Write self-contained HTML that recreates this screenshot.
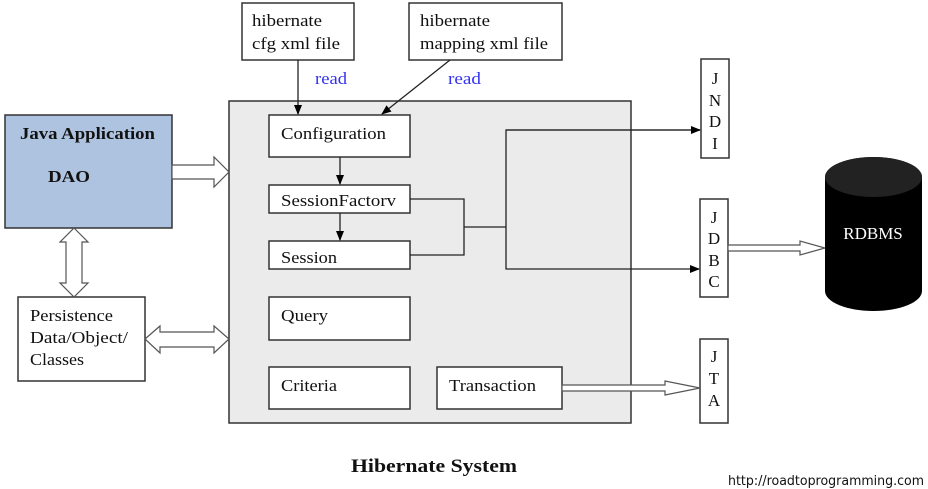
<!DOCTYPE html>
<html><head><meta charset="utf-8"><style>
html,body{margin:0;padding:0;background:#fff;}
svg{display:block;}
text{font-family:"Liberation Serif",serif;font-size:17px;fill:#111;}
</style></head><body>
<svg width="928" height="489" viewBox="0 0 928 489" xmlns="http://www.w3.org/2000/svg">
<defs>
<marker id="ah" markerWidth="10" markerHeight="8" refX="9" refY="4" orient="auto" markerUnits="userSpaceOnUse">
<path d="M0,0 L10,4 L0,8 Z" fill="#000"/></marker>
</defs>
<g stroke="#333" stroke-width="1.5" fill="#fff">
<rect x="229" y="101" width="402" height="322" fill="#ebebeb"/>
<rect x="5" y="115" width="167" height="113" fill="#aec3e0"/>
<rect x="18" y="297" width="127" height="84"/>
<rect x="242" y="3" width="112" height="57"/>
<rect x="409" y="3" width="153" height="57"/>
<rect x="269" y="115" width="141" height="42"/>
<rect x="269" y="185" width="141" height="28"/>
<rect x="269" y="241" width="141" height="28"/>
<rect x="269" y="297" width="141" height="43"/>
<rect x="269" y="367" width="141" height="42"/>
<rect x="437" y="367" width="125" height="42"/>
<rect x="701" y="59" width="28" height="99"/>
<rect x="700" y="199" width="28" height="98"/>
<rect x="700" y="339" width="28" height="84"/>
</g>
<g stroke="#222" stroke-width="1.3" fill="none">
<line x1="298" y1="60" x2="298" y2="114" marker-end="url(#ah)"/>
<line x1="450" y1="60" x2="382" y2="114" marker-end="url(#ah)"/>
<line x1="340" y1="157" x2="340" y2="184" marker-end="url(#ah)"/>
<line x1="340" y1="213" x2="340" y2="240" marker-end="url(#ah)"/>
<polyline points="410,199 464,199 464,255 410,255"/>
<line x1="464" y1="227" x2="506" y2="227"/>
<polyline points="700,130 506,130 506,269 699,269" marker-end="url(#ah)"/>
<line x1="506" y1="130" x2="700" y2="130" marker-end="url(#ah)"/>
</g>
<g stroke="#555" stroke-width="1.2" fill="#fff">
<path d="M172,165 L214,165 L214,157 L229,172 L214,187 L214,179 L172,179 Z"/>
<path d="M74,228 L88,242 L82,242 L82,283 L88,283 L74,297 L60,283 L66,283 L66,242 L60,242 Z"/>
<path d="M145,339 L160,326 L160,332 L214,332 L214,326 L229,339 L214,353 L214,347 L160,347 L160,353 Z"/>
<path d="M728,245 L800,245 L800,241 L825,248 L800,255 L800,251 L728,251 Z"/>
<path d="M562,385 L665,385 L665,381 L700,388 L665,395 L665,391 L562,391 Z"/>
</g>
<path d="M825,177 A48.5,20 0 0 1 922,177 L922,291 A48.5,20 0 0 1 825,291 Z" fill="#000"/>
<ellipse cx="873.5" cy="177" rx="48.5" ry="20" fill="#222"/>
<text x="20" y="139" style="font-weight:bold" textLength="135" lengthAdjust="spacingAndGlyphs">Java Application</text>
<text x="48" y="182" style="font-weight:bold" textLength="42" lengthAdjust="spacingAndGlyphs">DAO</text>
<text x="30" y="321" textLength="83" lengthAdjust="spacingAndGlyphs">Persistence</text>
<text x="30" y="343" textLength="98" lengthAdjust="spacingAndGlyphs">Data/Object/</text>
<text x="30" y="365" textLength="54" lengthAdjust="spacingAndGlyphs">Classes</text>
<text x="252" y="26" textLength="70" lengthAdjust="spacingAndGlyphs">hibernate</text>
<text x="252" y="49" textLength="88" lengthAdjust="spacingAndGlyphs">cfg xml file</text>
<text x="420" y="26" textLength="70" lengthAdjust="spacingAndGlyphs">hibernate</text>
<text x="420" y="49" textLength="128" lengthAdjust="spacingAndGlyphs">mapping xml file</text>
<text x="315" y="84" style="fill:#3333ee" textLength="32" lengthAdjust="spacingAndGlyphs">read</text>
<text x="448" y="84" style="fill:#3333ee" textLength="33" lengthAdjust="spacingAndGlyphs">read</text>
<text x="281" y="139" textLength="105" lengthAdjust="spacingAndGlyphs">Configuration</text>
<text x="281" y="206" textLength="115" lengthAdjust="spacingAndGlyphs">SessionFactorv</text>
<text x="281" y="263" textLength="56" lengthAdjust="spacingAndGlyphs">Session</text>
<text x="281" y="321" textLength="47" lengthAdjust="spacingAndGlyphs">Query</text>
<text x="281" y="391" textLength="56" lengthAdjust="spacingAndGlyphs">Criteria</text>
<text x="449" y="391" textLength="87" lengthAdjust="spacingAndGlyphs">Transaction</text>
<g text-anchor="middle">
<text x="715" y="84">J</text><text x="715" y="106">N</text><text x="715" y="127">D</text><text x="715" y="149">I</text>
<text x="714" y="223">J</text><text x="714" y="244">D</text><text x="714" y="266">B</text><text x="714" y="287">C</text>
<text x="714" y="362">J</text><text x="714" y="384">T</text><text x="714" y="406">A</text>
<text x="873" y="239" style="fill:#fff;font-size:17px">RDBMS</text>
</g>
<text x="351" y="472" style="font-weight:bold;font-size:19px" textLength="166" lengthAdjust="spacingAndGlyphs">Hibernate System</text>
<text x="728" y="485" style="font-family:'DejaVu Sans','Liberation Sans',sans-serif;font-size:13px" textLength="196" lengthAdjust="spacingAndGlyphs">http://roadtoprogramming.com</text>
</svg>
</body></html>
